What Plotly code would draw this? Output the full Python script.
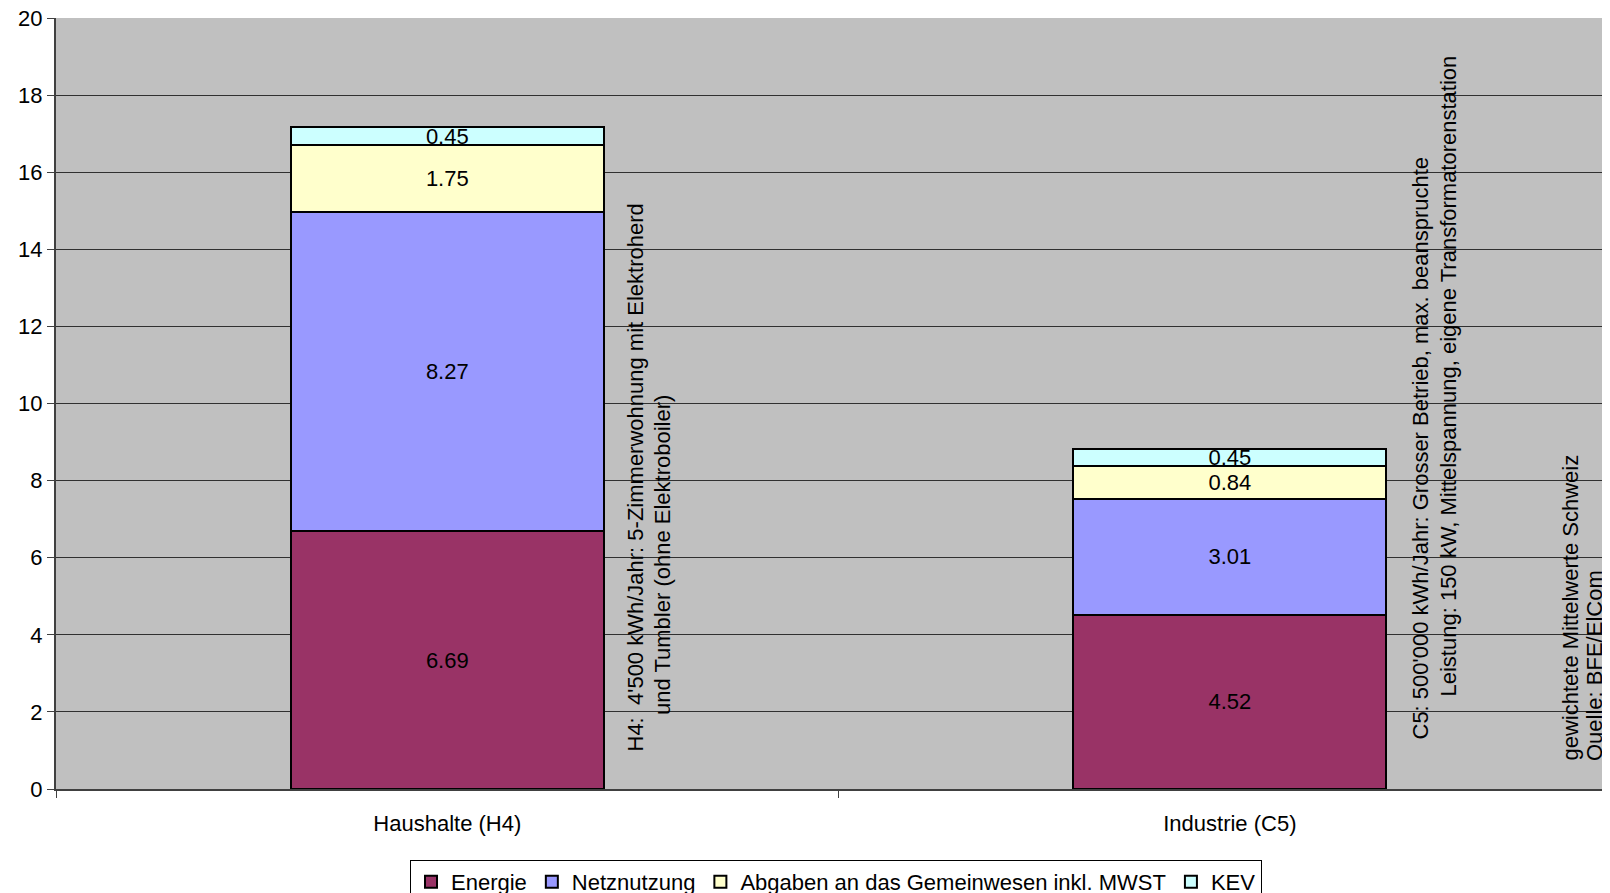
import plotly.graph_objects as go

categories = ["Haushalte (H4)", "Industrie (C5)"]
energie = [6.69, 4.52]
netznutzung = [8.27, 3.01]
abgaben = [1.75, 0.84]
kev = [0.45, 0.45]

series_names = ["Energie", "Netznutzung", "Abgaben an das Gemeinwesen inkl. MWST", "KEV"]
series_values = [energie, netznutzung, abgaben, kev]
series_colors = ["#993366", "#9999FF", "#FFFFCC", "#CCFFFF"]

y_ticks = list(range(0, 21, 2))

note_lines = [
    "H4:\u00a0\u00a04'500 kWh/Jahr: 5-Zimmerwohnung mit Elektroherd",
    "und Tumbler (ohne Elektroboiler)",
    "C5: 500'000 kWh/Jahr: Grosser Betrieb, max. beanspruchte",
    "Leistung: 150 kW, Mittelspannung, eigene Transformatorenstation",
    "gewichtete Mittelwerte Schweiz",
    "Quelle: BFE/ElCom",
]

FONT = "Liberation Sans, Arial, sans-serif"
FS = 22

fig = go.Figure()
for name, vals, col in zip(series_names, series_values, series_colors):
    fig.add_trace(go.Bar(
        x=categories, y=vals, name=name,
        marker=dict(color=col, line=dict(color="black", width=2)),
        texttemplate="%{y:.2f}", textposition="inside",
        insidetextanchor="middle", textangle=0, constraintext="none",
        textfont=dict(family=FONT, size=FS, color="black"),
        hoverinfo="skip",
    ))

# the page body adds an 8px offset; geometry below is in figure pixels
OFF = 8
L, R, T, B = 56 - OFF, 1610, 18 - OFF, 789 - OFF


def px(xs):
    return (xs - OFF - L) / (R - L)


def py(ys):
    return (B - (ys - OFF)) / (B - T)


# target positions in screen pixels (line centre x, line start/bottom y)
note_pos = [(634.5, 753), (662, 716), (1420, 741), (1448, 698), (1569.5, 762), (1594.5, 762)]
ann_font = dict(family=FONT, size=FS, color="black")
for txt, (cx, by) in zip(note_lines, note_pos):
    fig.add_annotation(text=txt, x=px(cx), y=py(by), xref="paper", yref="paper",
                       xanchor="center", yanchor="bottom", textangle=-90,
                       showarrow=False, font=ann_font, borderpad=0)

fig.update_layout(
    barmode="stack",
    bargap=0.6,
    width=1610, height=893,
    margin=dict(l=L, r=0, t=T, b=893 - B, autoexpand=False),
    paper_bgcolor="white",
    plot_bgcolor="#C0C0C0",
    font=dict(family=FONT, size=FS, color="black"),
    uniformtext=dict(minsize=FS, mode="show"),
    showlegend=True,
    legend=dict(orientation="h", x=px(836), xanchor="center", y=py(860), yanchor="top",
                bgcolor="white", bordercolor="black", borderwidth=1,
                font=dict(family=FONT, size=FS, color="black"),
                traceorder="normal", itemwidth=30, tracegroupgap=0),
)
fig.update_xaxes(
    type="category", range=[-0.5, 1.496], automargin=False,
    tickson="boundaries", ticks="outside", ticklen=7, tickcolor="#404040", tickwidth=1,
    showline=True, linecolor="#404040", linewidth=2,
    showgrid=False, tickfont=dict(family=FONT, size=FS, color="black"),
    ticklabelstandoff=14, ticklabeloverflow="allow",
)
fig.update_yaxes(
    range=[0, 20], tickvals=y_ticks, ticks="outside", ticklen=7, tickcolor="#404040",
    automargin=False, ticklabeloverflow="allow",
    showline=True, linecolor="#404040", linewidth=2,
    showgrid=True, gridcolor="#303030", gridwidth=1,
    zeroline=False, tickfont=dict(family=FONT, size=FS, color="black"),
)

fig.write_html("out.html")
